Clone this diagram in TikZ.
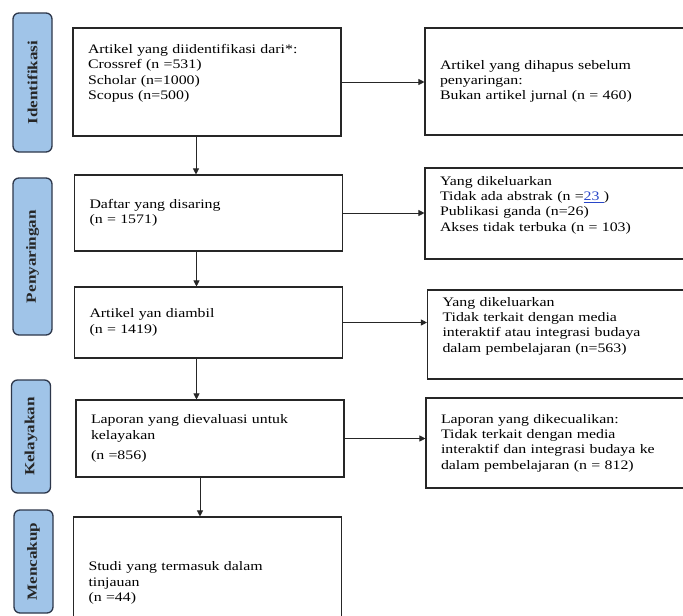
\documentclass[tikz,border=0pt]{standalone}
\usepackage{fontspec}
\setmainfont{Liberation Serif}[FakeStretch=1.22]
\usetikzlibrary{arrows.meta,positioning,calc}
\definecolor{phaseblue}{RGB}{160,196,232}
\definecolor{phaseedge}{RGB}{45,55,75}
\definecolor{linkblue}{RGB}{40,70,200}

\begin{document}
\begin{tikzpicture}[
  x=1pt, y=-1pt,
  every node/.style={font=\fontsize{13}{15.3}\selectfont},
  phase/.style={draw=phaseedge,fill=phaseblue,rounded corners=6pt,line width=1.3pt,
                minimum height=39pt,rotate=90,text=black!85,
                font=\fontsize{14}{16}\selectfont\bfseries},
  stage/.style={draw=black!85,line width=1.1pt,align=left,text width=238pt,
                inner xsep=15pt,inner ysep=0pt},
  side/.style={stage,text width=235pt},
  arr/.style={-{Triangle[length=6pt,width=6pt]},line width=0.8pt,black!85},
]
  \useasboundingbox (0,0) rectangle (683,616);
  \fill[white] (0,0) rectangle (683,616);

  % phase labels
  \node[phase,minimum width=139pt] (idf) at (32.5,82.5)  {Identifikasi};
  \node[phase,minimum width=157pt] (pen) at (32.5,256.5) {Penyaringan};
  \node[phase,minimum width=113pt] (kel) at (31,436.5)   {Kelayakan};
  \node[phase,minimum width=103pt] (men) at (33.5,561.5) {Mencakup};

  % main column
  \node[stage,minimum height=108pt] (ident)  at (207,82)
    {Artikel yang diidentifikasi dari*:\\ Crossref (n =531)\\ Scholar (n=1000)\\ Scopus (n=500)\\ \strut};
  \node[stage,minimum height=76pt]  (screen) at (208.5,213)
    {Daftar yang disaring\\ (n = 1571)};
  \node[stage,minimum height=71pt]  (sought) at (208.5,322.5)
    {Artikel yan diambil\\ (n = 1419)};
  \node[stage,minimum height=77pt]  (elig)   at (210,438.5)
    {Laporan yang dievaluasi untuk\\ kelayakan\\[5pt] (n =856)};
  \node[stage,minimum height=132pt] (incl)   at (207.5,583)
    {Studi yang termasuk dalam\\ tinjauan\\ (n =44)};

  % excluded column
  \node[side,minimum height=107pt] (removed) at (557.5,81.5)
    {Artikel yang dihapus sebelum\\ penyaringan:\\ Bukan artikel jurnal (n = 460)};
  \node[side,minimum height=91pt]  (excla)   at (557.5,213.5)
    {Yang dikeluarkan\\ Tidak ada abstrak (n =\textcolor{linkblue}{\underline{23 }})\\ Publikasi ganda (n=26)\\ Akses tidak terbuka (n = 103)\\ \strut};
  \node[side,minimum height=89pt]  (exclb)   at (560,334.5)
    {Yang dikeluarkan\\ Tidak terkait dengan media\\ interaktif atau integrasi budaya\\ dalam pembelajaran (n=563)\\ \strut};
  \node[side,minimum height=90pt]  (exclc)   at (558.5,443)
    {Laporan yang dikecualikan:\\ Tidak terkait dengan media\\ interaktif dan integrasi budaya ke\\ dalam pembelajaran (n = 812)};

  % flow down
  \draw[arr] ([xshift=-11pt]ident.south)  -- ([xshift=-11pt]ident.south |- screen.north);
  \draw[arr] ([xshift=-12pt]screen.south) -- ([xshift=-12pt]screen.south |- sought.north);
  \draw[arr] ([xshift=-12pt]sought.south) -- ([xshift=-12pt]sought.south |- elig.north);
  \draw[arr] ([xshift=-10pt]elig.south)   -- ([xshift=-10pt]elig.south |- incl.north);

  % flow right
  \draw[arr] (ident.east)  -- (ident.east -| removed.west);
  \draw[arr] (screen.east) -- (screen.east -| excla.west);
  \draw[arr] (sought.east) -- (sought.east -| exclb.west);
  \draw[arr] (elig.east)   -- (elig.east -| exclc.west);
\end{tikzpicture}
\end{document}
